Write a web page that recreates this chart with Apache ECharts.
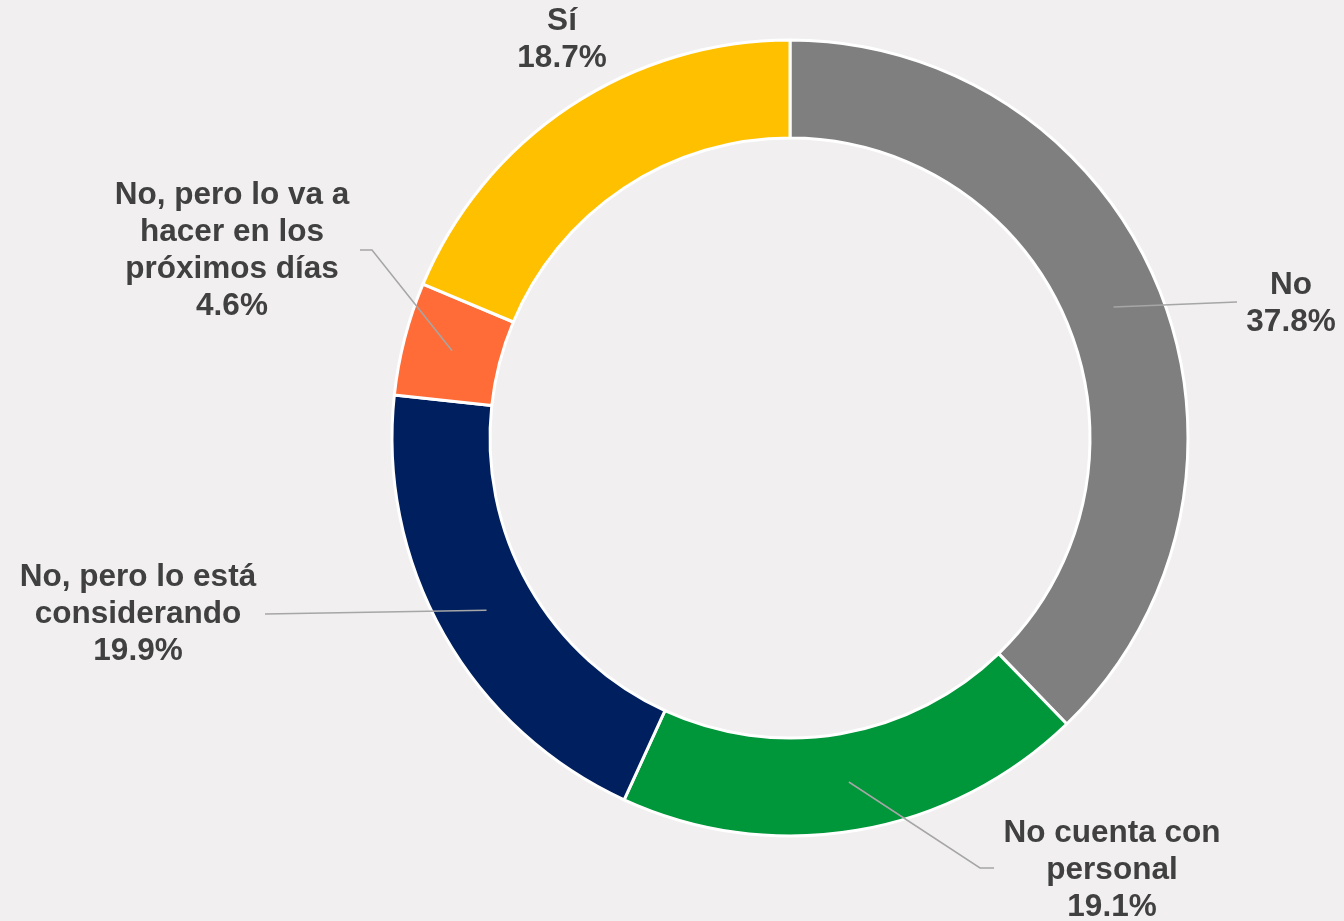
<!DOCTYPE html>
<html>
<head>
<meta charset="utf-8">
<script src="https://cdn.jsdelivr.net/npm/echarts@6/dist/echarts.min.js"></script>
<style>
    html, body { margin: 0; padding: 0; background: #F1EFF0; }
    #chart { width: 1344px; height: 921px; }
</style>
</head>
<body>
<div id="chart"></div>
<script>
// categories and values (percent), clockwise from the top
var categories = ['No', 'No cuenta con personal', 'No, pero lo está considerando', 'No, pero lo va a hacer en los próximos días', 'Sí'];
var labelLines = ['No', 'No cuenta con\npersonal', 'No, pero lo está\nconsiderando', 'No, pero lo va a\nhacer en los\npróximos días', 'Sí'];
var values = [37.8, 19.1, 19.9, 4.6, 18.7];
var colors = ['#7F7F7F', '#00963A', '#001F5F', '#FF6C37', '#FFC000'];

// label placement (centre of text block) and leader line ends
var labelPos = [[1291, 304], [1112, 870], [138, 614], [232, 251], [562, 40]];
var lineEnds = [
    [[1237, 302], [1237, 302]],
    [[980, 868], [994, 868]],
    [[265, 614], [265, 614]],
    [[372, 250], [360, 250]],
    null
];

var cx = 790, cy = 438, rIn = 300, rOut = 398;
var total = values.reduce(function (a, b) { return a + b; }, 0);

function midAngle(i) {
    var before = 0;
    for (var k = 0; k < i; k++) before += values[k];
    return (before + values[i] / 2) / total * Math.PI * 2;
}

var chart = echarts.init(document.getElementById('chart'));
var option = {
    backgroundColor: '#F1EFF0',
    animation: false,
    series: [{
        // the ring itself
        type: 'pie',
        z: 2,
        silent: true,
        center: [cx, cy],
        radius: [rIn, rOut],
        startAngle: 90,
        clockwise: true,
        itemStyle: { borderColor: '#FFFFFF', borderWidth: 3 },
        label: { show: false },
        labelLine: { show: false },
        data: categories.map(function (c, i) {
            return { name: c, value: values[i], itemStyle: { color: colors[i] } };
        })
    }, {
        // same slices, transparent, only to carry labels + leader lines above the ring
        type: 'pie',
        z: 3,
        silent: true,
        center: [cx, cy],
        radius: [rIn, rOut],
        startAngle: 90,
        clockwise: true,
        avoidLabelOverlap: false,
        itemStyle: { color: 'rgba(0,0,0,0)', borderWidth: 0 },
        label: {
            show: true,
            position: 'outside',
            color: '#404040',
            fontFamily: 'Liberation Sans, Arial, sans-serif',
            fontWeight: 'bold',
            fontSize: 31.5,
            lineHeight: 37,
            align: 'center',
            formatter: function (p) {
                return labelLines[p.dataIndex] + '\n' + values[p.dataIndex].toFixed(1) + '%';
            }
        },
        labelLine: {
            show: true,
            lineStyle: { color: '#A6A6A6', width: 1.5 }
        },
        labelLayout: function (p) {
            var i = p.dataIndex;
            var out = { x: labelPos[i][0], y: labelPos[i][1], align: 'center', verticalAlign: 'middle' };
            if (lineEnds[i]) {
                var a = midAngle(i);
                var rMid = (rIn + rOut) / 2;
                var s = [cx + rMid * Math.sin(a), cy - rMid * Math.cos(a)];
                out.labelLinePoints = [s].concat(lineEnds[i]);
            }
            return out;
        },
        data: categories.map(function (c, i) {
            var d = { name: c, value: values[i] };
            if (!lineEnds[i]) d.labelLine = { show: false };
            return d;
        })
    }]
};
option && chart.setOption(option);
</script>
</body>
</html>
